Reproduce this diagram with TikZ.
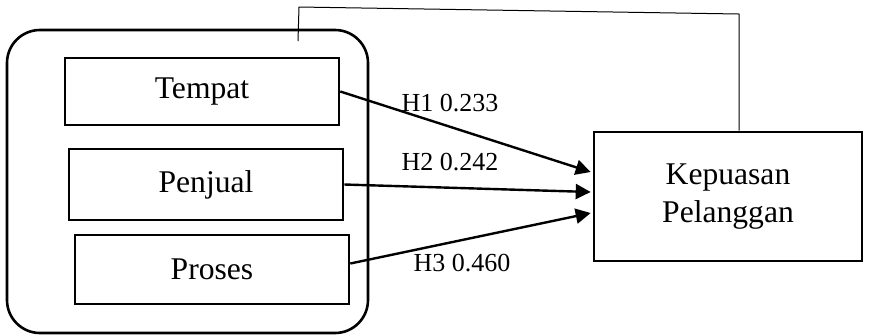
\documentclass[tikz,border=0pt]{standalone}
\usepackage{fontspec}
\setmainfont{Liberation Serif}
\usepackage{tikz}
\usetikzlibrary{calc,arrows.meta,positioning}

\begin{document}
\begin{tikzpicture}[x=0.5pt,y=-0.5pt,
    varbox/.style={draw, line width=1.3pt, minimum width=137pt, inner sep=0pt,
        font=\fontsize{15.8}{19}\selectfont},
    pathlbl/.style={inner sep=0pt, font=\fontsize{13}{15}\selectfont},
    effect/.style={line width=1.2pt, -{Triangle[length=7.5pt,width=7.5pt]}}]
    \useasboundingbox (0,0) rectangle (874,334);
    % outer group and the three factors
    \node[draw, line width=1.3pt, rounded corners=16.5pt, minimum width=180.5pt,
        minimum height=151.5pt, inner sep=0pt] (grup) at (187.5,181.5) {};
    \node[varbox, minimum height=33.5pt] (tempat) at (202,91.5) {Tempat};
    \node[varbox, minimum height=35.5pt] (penjual) at (206,184.5) {Penjual};
    \node[varbox, minimum height=34.5pt] (proses) at (212,269.5) {Proses};
    \node[draw, line width=1.3pt, minimum width=134pt, minimum height=64.5pt,
        inner sep=0pt, align=center, font=\fontsize{15.8}{19}\selectfont]
        (kepuasan) at (728,196.5) {Kepuasan\\Pelanggan};
    % arrows into the outcome
    \draw[effect] (tempat.east) -- ($(kepuasan.west)+(-2,-24.5)$);
    \draw[effect] (penjual.east) -- ($(kepuasan.west)+(-2,-4.5)$);
    \draw[effect] ($(proses.east)+(0,-6)$) -- ($(kepuasan.west)+(-2,16.5)$);
    \node[pathlbl] (lblA) at (450,103) {H1 0.233};
    \node[pathlbl] (lblB) at (450,162) {H2 0.242};
    \node[pathlbl] (lblC) at (462,263) {H3 0.460};
    % thin line over the top
    \coordinate (fbA) at (298,41);
    \coordinate (fbB) at (299,7);
    \coordinate (fbC) at (739,14);
    \draw[line width=0.5pt] (fbA) -- (fbB) -- (fbC) -- (fbC |- kepuasan.north);
\end{tikzpicture}
\end{document}
